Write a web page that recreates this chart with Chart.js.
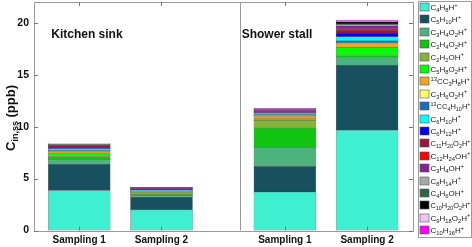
<!DOCTYPE html>
<html>
<head>
<meta charset="utf-8">
<script src="https://cdn.jsdelivr.net/npm/chart.js@4.4.1/dist/chart.umd.min.js"></script>
<style>
html,body{margin:0;padding:0;background:#fff;}
#wrap{width:472px;height:247px;position:relative;}
</style>
</head>
<body>
<div id="wrap"><canvas id="c" width="472" height="247"></canvas></div>
<script>
// ---------------- DATA ----------------
const groupNames = ['Kitchen sink', 'Shower stall'];
const sampleLabels = ['Sampling 1', 'Sampling 2', 'Sampling 1', 'Sampling 2'];
const yTickValues = [0, 5, 10, 15, 20];
const species = [
  'C4H8H+', 'C5H10H+', 'C3H4O2H+', 'C2H4O2H+', 'C2H2OH+', 'C5H8O2H+',
  '13CC3H8H+', 'C3H6O2H+', '13CC4H10H+', 'C6H10H+', 'C6H12H+', 'C11H20O2H+',
  'C12H24OH+', 'C3H4OH+', 'C8H14H+', 'C4H6OH+', 'C10H20O2H+', 'C9H18O2H+', 'C10H16H+'
];
// values (ppb) per species, in the order of `species`
const kitchen1 = [3.85, 2.55, 0.45, 0.25, 0.05, 0.30, 0.17, 0.03, 0.12, 0.12, 0.12, 0.15, 0.03, 0.04, 0.02, 0.03, 0.05, 0.01, 0.01];
const kitchen2 = [1.97, 1.22, 0.12, 0.15, 0.03, 0.15, 0.08, 0.03, 0.05, 0.05, 0.08, 0.05, 0.02, 0.06, 0.02, 0.02, 0.04, 0.005, 0.005];
const shower1  = [3.70, 2.45, 1.85, 1.85, 0.75, 0.15, 0.25, 0.05, 0.10, 0.12, 0.08, 0.08, 0.04, 0.12, 0.03, 0.05, 0.06, 0.01, 0.01];
const shower2  = [9.65, 6.25, 0.80, 0.15, 0.05, 0.70, 0.40, 0.05, 0.20, 0.40, 0.35, 0.25, 0.15, 0.30, 0.10, 0.10, 0.20, 0.04, 0.10];
const samples = [kitchen1, kitchen2, shower1, shower2];

// ---------------- STYLE / LAYOUT ----------------
const xSlots = [1, 2, 3.5, 4.5];   // bar slots on the x scale
const dividerAt = 2.95;
const colors = [
  '#3ff0d0', '#17505f', '#4db37d', '#12c412', '#86b43a', '#00ff00',
  '#f2a51e', '#ffff66', '#1670c0', '#00ffff', '#0000ff', '#a0143c',
  '#ff0000', '#8a2296', '#a8a8a8', '#2f6648', '#000000', '#f0c4ee', '#ff00ff'
];
const FONT = '"Liberation Sans", Arial, sans-serif';

const datasets = species.map((name, i) => ({
  label: name,
  data: samples.map((s, j) => ({ x: xSlots[j], y: s[i] })),
  backgroundColor: colors[i],
  borderColor: 'rgba(40,40,40,0.55)',
  borderWidth: 0.5,
  borderSkipped: false,
  barThickness: 62
}));

function formulaParts(str) {
  const parts = [];
  let i = 0;
  if (str.startsWith('13')) { parts.push({ t: '13', k: 'sup' }); i = 2; }
  while (i < str.length) {
    const ch = str[i];
    if (/[0-9]/.test(ch)) {
      let j = i;
      while (j < str.length && /[0-9]/.test(str[j])) j++;
      parts.push({ t: str.slice(i, j), k: 'sub' });
      i = j;
    } else if (ch === '+') {
      parts.push({ t: '+', k: 'sup' }); i++;
    } else {
      parts.push({ t: ch, k: 'n' }); i++;
    }
  }
  return parts;
}

function drawFormula(ctx, str, x, y, size, maxW) {
  const big = size + 'px ' + FONT;
  const small = (size * 0.72).toFixed(1) + 'px ' + FONT;
  const parts = formulaParts(str);
  let total = 0;
  parts.forEach(p => { ctx.font = p.k === 'n' ? big : small; p.w = ctx.measureText(p.t).width; total += p.w; });
  const sc = Math.min(1, maxW / total);
  ctx.save();
  ctx.translate(x, y);
  ctx.scale(sc, 1);
  ctx.textBaseline = 'alphabetic';
  ctx.textAlign = 'left';
  let cx = 0;
  parts.forEach(p => {
    ctx.font = p.k === 'n' ? big : small;
    const dy = p.k === 'sub' ? size * 0.25 : (p.k === 'sup' ? -size * 0.42 : 0);
    ctx.fillText(p.t, cx, dy);
    cx += p.w;
  });
  ctx.restore();
}

const framePlugin = {
  id: 'frame',
  afterDraw(chart) {
    const ctx = chart.ctx;
    const a = chart.chartArea;
    const xs = chart.scales.x, ys = chart.scales.y;
    ctx.save();
    ctx.strokeStyle = '#9a9a9a';
    ctx.lineWidth = 1;
    ctx.strokeRect(Math.round(a.left) + 0.5, Math.round(a.top) + 0.5,
                   Math.round(a.right - a.left) - 1, Math.round(a.bottom - a.top));
    const dx = Math.round(xs.getPixelForValue(dividerAt)) + 0.5;
    ctx.beginPath(); ctx.moveTo(dx, a.top); ctx.lineTo(dx, a.bottom); ctx.stroke();
    ctx.strokeStyle = '#777';
    const tl = 4;
    yTickValues.forEach(v => {
      const py = Math.round(ys.getPixelForValue(v)) + 0.5;
      ctx.beginPath();
      ctx.moveTo(a.left, py); ctx.lineTo(a.left + tl, py);
      ctx.moveTo(a.right - 1, py); ctx.lineTo(a.right - 1 - tl, py);
      ctx.stroke();
    });
    xSlots.forEach(v => {
      const px = Math.round(xs.getPixelForValue(v)) + 0.5;
      ctx.beginPath();
      ctx.moveTo(px, a.bottom); ctx.lineTo(px, a.bottom - tl);
      ctx.moveTo(px, a.top); ctx.lineTo(px, a.top + tl);
      ctx.stroke();
    });
    ctx.fillStyle = '#111';
    ctx.font = 'bold 12px ' + FONT;
    ctx.textBaseline = 'middle';
    ctx.textAlign = 'left';
    ctx.fillText(groupNames[0], xs.getPixelForValue(0.66), ys.getPixelForValue(18.9));
    ctx.fillText(groupNames[1], xs.getPixelForValue(2.975), ys.getPixelForValue(18.9));
    // y axis title with subscript
    ctx.translate(10, 118);
    ctx.rotate(-Math.PI / 2);
    const fBig = 'bold 13px ' + FONT, fSmall = 'bold 9px ' + FONT;
    ctx.font = fBig; const w1 = ctx.measureText('C').width, w3 = ctx.measureText(' (ppb)').width;
    ctx.font = fSmall; const w2 = ctx.measureText('in,ss').width;
    let sx = -(w1 + w2 + w3) / 2;
    ctx.textBaseline = 'alphabetic';
    ctx.font = fBig; ctx.fillText('C', sx, 5); sx += w1;
    ctx.font = fSmall; ctx.fillText('in,ss', sx, 8); sx += w2;
    ctx.font = fBig; ctx.fillText(' (ppb)', sx, 5);
    ctx.restore();

    // legend
    ctx.save();
    const lx = 418.5, ly = 1.5, lw = 53, lh = 236;
    ctx.strokeStyle = '#9a9a9a';
    ctx.lineWidth = 1;
    ctx.strokeRect(lx, ly, lw, lh);
    species.forEach((name, i) => {
      const cy = 7 + i * 12.4;
      ctx.fillStyle = colors[i];
      ctx.fillRect(420, Math.round(cy - 4), 9, 8);
      ctx.strokeStyle = '#555';
      ctx.lineWidth = 0.6;
      ctx.strokeRect(420, Math.round(cy - 4), 9, 8);
      ctx.fillStyle = '#222';
      drawFormula(ctx, name, 430.5, cy + 3, 8, 40);
    });
    ctx.restore();
  }
};

new Chart(document.getElementById('c'), {
  type: 'bar',
  data: { datasets },
  options: {
    responsive: false,
    animation: false,
    devicePixelRatio: 1,
    layout: { padding: { top: 2, right: 58, left: 0, bottom: 0 } },
    plugins: { legend: { display: false }, tooltip: { enabled: false } },
    scales: {
      x: {
        type: 'linear',
        stacked: true,
        min: 0.45, max: 5.07,
        offset: false,
        grid: { display: false, drawTicks: false },
        border: { display: false },
        afterBuildTicks: (s) => { s.ticks = xSlots.map(v => ({ value: v })); },
        afterFit: (s) => { s.height = 16.5; s.paddingLeft = 0; s.paddingRight = 0; },
        ticks: {
          padding: 4,
          autoSkip: false,
          maxRotation: 0,
          color: '#111',
          font: { family: FONT, size: 10, weight: 'bold' },
          callback: (v) => { const k = xSlots.indexOf(v); return k >= 0 ? sampleLabels[k] : ''; }
        }
      },
      y: {
        stacked: true,
        min: 0, max: 22,
        grid: { display: false, drawTicks: false },
        border: { display: false },
        afterBuildTicks: (s) => { s.ticks = yTickValues.map(v => ({ value: v })); },
        afterFit: (s) => { s.width = 34; s.paddingTop = 0; s.paddingBottom = 0; },
        ticks: {
          padding: 5,
          color: '#111',
          font: { family: FONT, size: 10.5, weight: 'bold' }
        }
      }
    }
  },
  plugins: [framePlugin]
});
</script>
</body>
</html>
